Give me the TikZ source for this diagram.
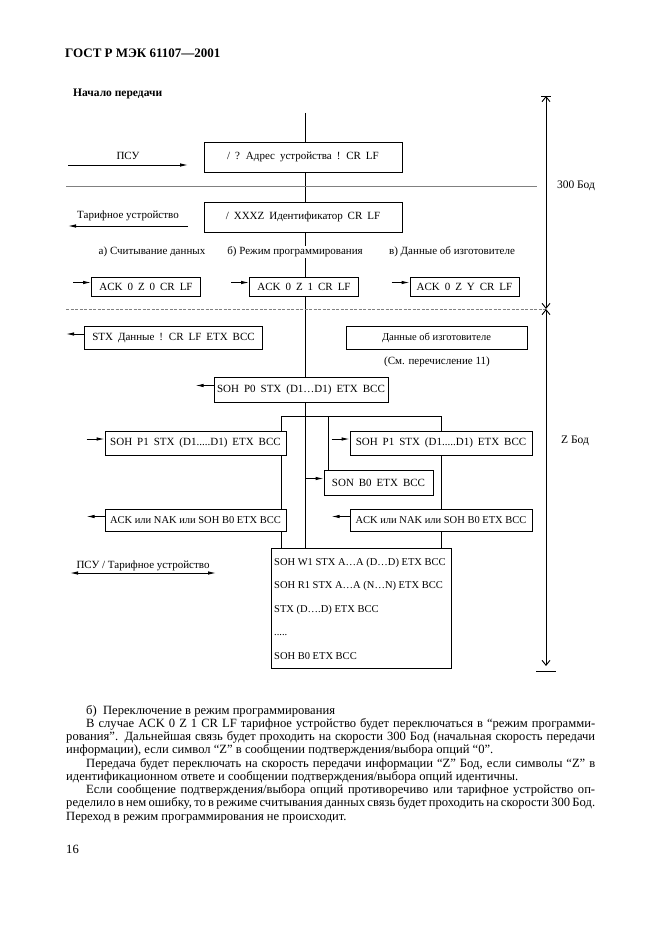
\documentclass[tikz,border=0pt]{standalone}
\usepackage{fontspec}
\setmainfont{Liberation Serif}
\newfontfamily\wideserif{Liberation Serif}[WordSpace=1.8]
\usetikzlibrary{arrows.meta,backgrounds}
\tikzset{
  msg/.style={draw, fill=white, line width=0.9pt, inner sep=0pt, font=\wideserif\fontsize{11}{13}\selectfont},
  plainmsg/.style={msg, font=\fontsize{10.5}{13}\selectfont},
  note/.style={inner sep=1pt, font=\fontsize{11}{13}\selectfont},
  sig/.style={-{Latex[length=8pt,width=3.5pt]}, line width=0.9pt},
  link/.style={line width=0.9pt},
  baud/.style={{Straight Barb[length=5pt,width=8pt]}-{Straight Barb[length=5pt,width=8pt]}, line width=0.9pt},
  bodytext/.style={anchor=base west, inner sep=0pt, font=\fontsize{12.6}{13}\selectfont},
}
% short arrows at the left side of a box
\newcommand\arrin[1]{\draw[sig] ([shift={(-18,-4)}]#1.west) -- ([shift={(0,-4)}]#1.west);}
\newcommand\arrout[1]{\draw[sig] ([shift={(0,-4)}]#1.west) -- ([shift={(-18,-4)}]#1.west);}
\newcommand\fivedots{.....}
\begin{document}
\begin{tikzpicture}[x=1pt,y=-1pt]
    \useasboundingbox (0,0) rectangle (661,936);
    \node[anchor=west, inner sep=0pt, font=\bfseries\fontsize{13}{15}\selectfont] (head) at (65,53) {ГОСТ Р МЭК 61107—2001};
    \node[anchor=west, inner sep=0pt, font=\bfseries\fontsize{11.5}{13}\selectfont] (begin) at (73,94) {Начало передачи};
    % 300 Bd
    \node[msg, minimum width=198, minimum height=30] (req) at (303,157) {/ ? Адрес устройства ! CR LF};
    \node[msg, minimum width=198, minimum height=30] (ident) at (303,217) {/ XXXZ Идентификатор CR LF};
    \node[note, fill=white] (moda) at (152,252) {а) Считывание данных};
    \node[note, fill=white] (modb) at (295,252) {б) Режим программирования};
    \node[note, fill=white] (modc) at (452,252) {в) Данные об изготовителе};
    \node[msg, minimum width=109, minimum height=19] (acka) at (146,286.5) {ACK 0 Z 0 CR LF};
    \node[msg, minimum width=109, minimum height=19] (ackb) at (304,286.5) {ACK 0 Z 1 CR LF};
    \node[msg, minimum width=109, minimum height=19] (ackc) at (464.5,286.5) {ACK 0 Z Y CR LF};
    \arrin{acka} \arrin{ackb} \arrin{ackc}
    % Z Bd
    \node[msg, minimum width=178, minimum height=23] (data) at (173.5,338) {STX Данные ! CR LF ETX BCC};
    \node[msg, minimum width=181, minimum height=23, font=\fontsize{10.5}{13}\selectfont] (info) at (436.5,338) {Данные об изготовителе};
    \node[note] (infonote) at (437,362) {(См. перечисление 11)};
    \arrout{data}
    \node[msg, minimum width=174, minimum height=25] (pzero) at (301,389.5) {SOH P0 STX (D1\ldots D1) ETX BCC};
    \arrout{pzero}
    \node[msg, minimum width=181, minimum height=24] (ponel) at (195.5,443) {SOH P1 STX (D1\fivedots D1) ETX BCC};
    \node[msg, minimum width=182, minimum height=24] (poner) at (441,443) {SOH P1 STX (D1\fivedots D1) ETX BCC};
    \node[msg, minimum width=109, minimum height=25] (son) at (378.5,482.5) {SON B0 ETX BCC};
    \node[plainmsg, minimum width=181, minimum height=22] (ackl) at (195.5,520.5) {ACK или NAK или SOH B0 ETX BCC};
    \node[plainmsg, minimum width=182, minimum height=22] (ackr) at (441,520.5) {ACK или NAK или SOH B0 ETX BCC};
    \arrin{ponel} \arrin{poner} \arrin{son}
    \arrout{ackl} \arrout{ackr}
    \node[draw, fill=white, line width=0.9pt, minimum width=180, minimum height=120, anchor=north west] (cmd) at (271,548) {};
    \foreach \line [count=\i] in {SOH W1 STX A\ldots A (D\ldots D) ETX BCC, SOH R1 STX A\ldots A (N\ldots N) ETX BCC, STX (D\ldots.D) ETX BCC, \fivedots, SOH B0 ETX BCC}
        \node[anchor=base west, inner sep=0pt, font=\fontsize{10.5}{13}\selectfont] (cmd\i) at (274,{565+23.5*(\i-1)}) {\line};
    % lines behind the boxes
    \begin{scope}[on background layer]
        \coordinate (top) at (305,113);
        \draw[link] (top) -- (top |- cmd.north);
        \coordinate (forkl) at (281,416); \coordinate (forks) at (328,416); \coordinate (forkr) at (441,416);
        \draw[link] (forkl |- cmd.north) -- (forkl) -- (forkr) -- (forkr |- cmd.north);
        \draw[link] (forks) -- (forks |- son.north);
    \end{scope}
    % directions
    \coordinate (psua) at (68,165); \coordinate (psub) at (188,165);
    \draw[sig] (psua) -- (psub) node[note, midway, above=4pt] (psu) {ПСУ};
    \coordinate (tua) at (188,226); \coordinate (tub) at (68,226);
    \draw[sig] (tua) -- (tub) node[note, midway, above=4pt] (tu) {Тарифное устройство};
    \coordinate (both) at (70,573); \coordinate (bothr) at (216,573);
    \draw[sig, {Latex[length=8pt,width=3.5pt]}-{Latex[length=8pt,width=3.5pt]}] (both) -- (bothr) node[note, midway, above=1pt] (psutu) {ПСУ / Тарифное устройство};
    % separators
    \coordinate (sepa) at (66,186); \coordinate (sepb) at (537,186);
    \draw[gray, line width=0.5pt] (sepa) -- (sepb);
    \coordinate (sepc) at (66,309);
    % baud rate
    \coordinate (bt) at (546,96); \coordinate (bm) at (546,309); \coordinate (bb) at (546,666);
    \draw[gray, line width=0.6pt, dash pattern=on 3pt off 1.5pt] (sepc) -- (bm);
    \draw[baud] (bt) -- (bm);
    \draw[baud] (bm) -- (bb);
    \draw[link] ([shift={(-5,0)}]bt) -- ([shift={(5,0)}]bt);
    \draw[link] ([shift={(-10,5)}]bb) -- ([shift={(10,5)}]bb);
    \node[note, font=\fontsize{11.5}{13}\selectfont] (slow) at (576,186) {300 Бод};
    \node[note, font=\fontsize{11.5}{13}\selectfont] (fast) at (575,441) {Z Бод};
    % text below
    \node[bodytext] (par1) at (86,714) {б)\enspace Переключение в режим программирования};
    \node[bodytext] (par2) at (86,727.25) {\makebox[509pt][s]{В случае ACK 0 Z 1 CR LF тарифное устройство будет переключаться в “режим программи-}};
    \node[bodytext] (par3) at (66,740.5) {\makebox[529pt][s]{рования”. Дальнейшая связь будет проходить на скорости 300 Бод (начальная скорость передачи}};
    \node[bodytext] (par4) at (66,753.75) {информации), если символ “Z” в сообщении подтверждения/выбора опций “0”.};
    \node[bodytext] (par5) at (86,767) {\makebox[509pt][s]{Передача будет переключать на скорость передачи информации “Z” Бод, если символы “Z” в}};
    \node[bodytext] (par6) at (66,780.25) {идентификационном ответе и сообщении подтверждения/выбора опций идентичны.};
    \node[bodytext] (par7) at (86,793.5) {\makebox[509pt][s]{Если сообщение подтверждения/выбора опций противоречиво или тарифное устройство оп-}};
    \node[bodytext] (par8) at (66,806.75) {\makebox[529pt][s]{ределило в нем ошибку, то в режиме считывания данных связь будет проходить на скорости 300 Бод.}};
    \node[bodytext] (par9) at (66,820) {Переход в режим программирования не происходит.};
    \node[bodytext] (pageno) at (66,853) {16};
\end{tikzpicture}
\end{document}
